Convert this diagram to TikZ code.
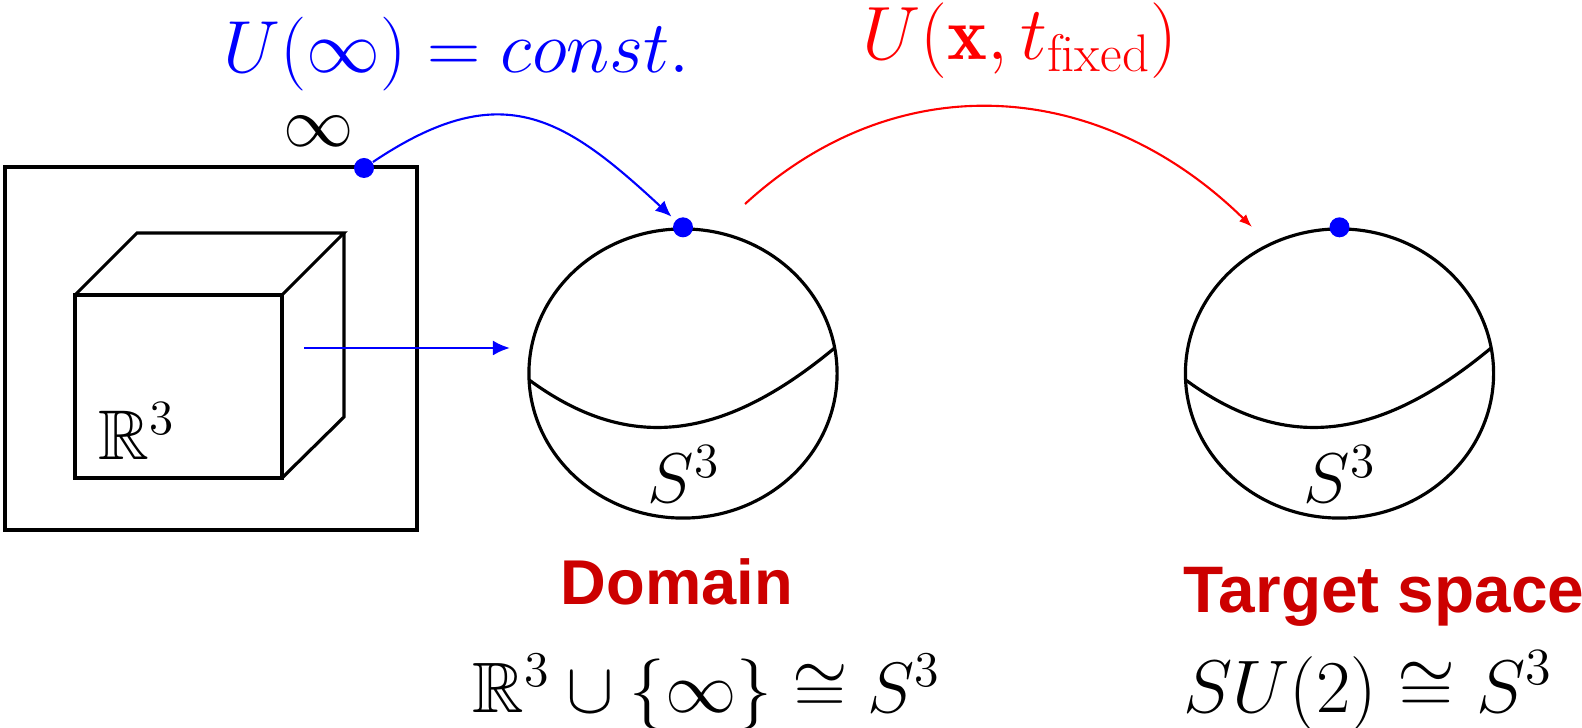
\RequirePackage{fix-cm}
\documentclass[tikz,border=0pt]{standalone}
\usepackage{amssymb}
\usepackage{fontspec}
\newfontfamily\labelfont{Liberation Sans}
\usetikzlibrary{arrows.meta,shapes.geometric}
\definecolor{domred}{RGB}{204,0,0}
\begin{document}
\begin{tikzpicture}[x=0.01cm,y=-0.01cm,
  bline/.style={line width=0.9pt,black},
  dotb/.style={circle,fill=blue,inner sep=0pt,minimum size=0.2cm},
  sphere/.style={ellipse,draw,line width=0.9pt,minimum width=3.08cm,minimum height=2.89cm,inner sep=0pt},
  bluearc/.style={blue,line width=0.6pt,-{Latex[length=0.16cm,width=0.14cm]}},
  redarc/.style={red,line width=0.6pt,-{Latex[length=0.13cm,width=0.1cm]}},
  harrow/.style={blue,line width=0.75pt,-{Latex[length=0.17cm,width=0.15cm]}},
  mathlbl/.style={inner sep=0pt,font=\fontsize{20}{24}\selectfont},
  toplbl/.style={inner sep=0pt,font=\fontsize{21}{25}\selectfont},
  titlelbl/.style={inner sep=0pt,text=domred,font=\labelfont\bfseries\fontsize{18}{22}\selectfont}]
\useasboundingbox (0,0) rectangle (1582,728);

% outer box and cube
\draw[bline] (5,167) rectangle (417,530);
\draw[bline] (75,295) rectangle (282,478);
\draw[bline] (75,295) -- (137,233) -- (344,233) -- (282,295);
\draw[bline] (344,233) -- (344,417) -- (282,478);
\node[mathlbl,anchor=base] (R3) at (137,460) {$\mathbb{R}^3$};
\node[mathlbl] (inflbl) at (319,131) {$\infty$};

% spheres
\node[sphere] (sph1) at (683,373.5) {};
\node[sphere] (sph2) at (1339.5,373.5) {};
\foreach \s in {sph1,sph2}{
  \begin{scope}[shift={(\s)}]
    \draw[bline] (-153.8,6.5) .. controls (-57,77.5) and (36,70.5) .. (151.6,-25.5);
  \end{scope}
}
\node[mathlbl,anchor=base] (S1) at (684,503) {$S^3$};
\node[mathlbl,anchor=base] (S2) at (1340,503) {$S^3$};

% dots
\node[dotb] (inf) at (364,168) {};
\node[dotb] (top1) at (sph1.north) {};
\node[dotb] (top2) at (sph2.north) {};

% connectors
\coordinate (ha1) at (304,348);
\coordinate (ha2) at (510,348);
\draw[harrow] (ha1) -- (ha2);
\draw[bluearc,shorten >=1.4pt] (inf) .. controls (501,76) and (563,116) .. (top1);
\coordinate (rs) at (745,204);
\coordinate (re) at (1252,227);
\draw[redarc] (rs) .. controls (900,62) and (1102,80) .. (re);

% labels
\node[toplbl,anchor=base,text=blue] (lblU) at (457,73) {$U(\infty)=const.$};
\node[toplbl,anchor=base,text=red,font=\fontsize{21.5}{25}\selectfont] (lblUx) at (1020,60) {$U(\mathbf{x},t_{\mathrm{fixed}})$};
\node[titlelbl,anchor=base] (dom) at (677,605) {Domain};
\node[titlelbl,anchor=base,font=\labelfont\bfseries\fontsize{18.7}{22}\selectfont] (tgt) at (1384,613) {Target space};
\node[mathlbl,anchor=base,font=\fontsize{20.3}{24}\selectfont] (f1) at (707,712) {$\mathbb{R}^3\cup\{\infty\}\cong S^3$};
\node[mathlbl,anchor=base,font=\fontsize{21.2}{25}\selectfont] (f2) at (1368,712) {$SU(2)\cong S^3$};
\end{tikzpicture}
\end{document}
